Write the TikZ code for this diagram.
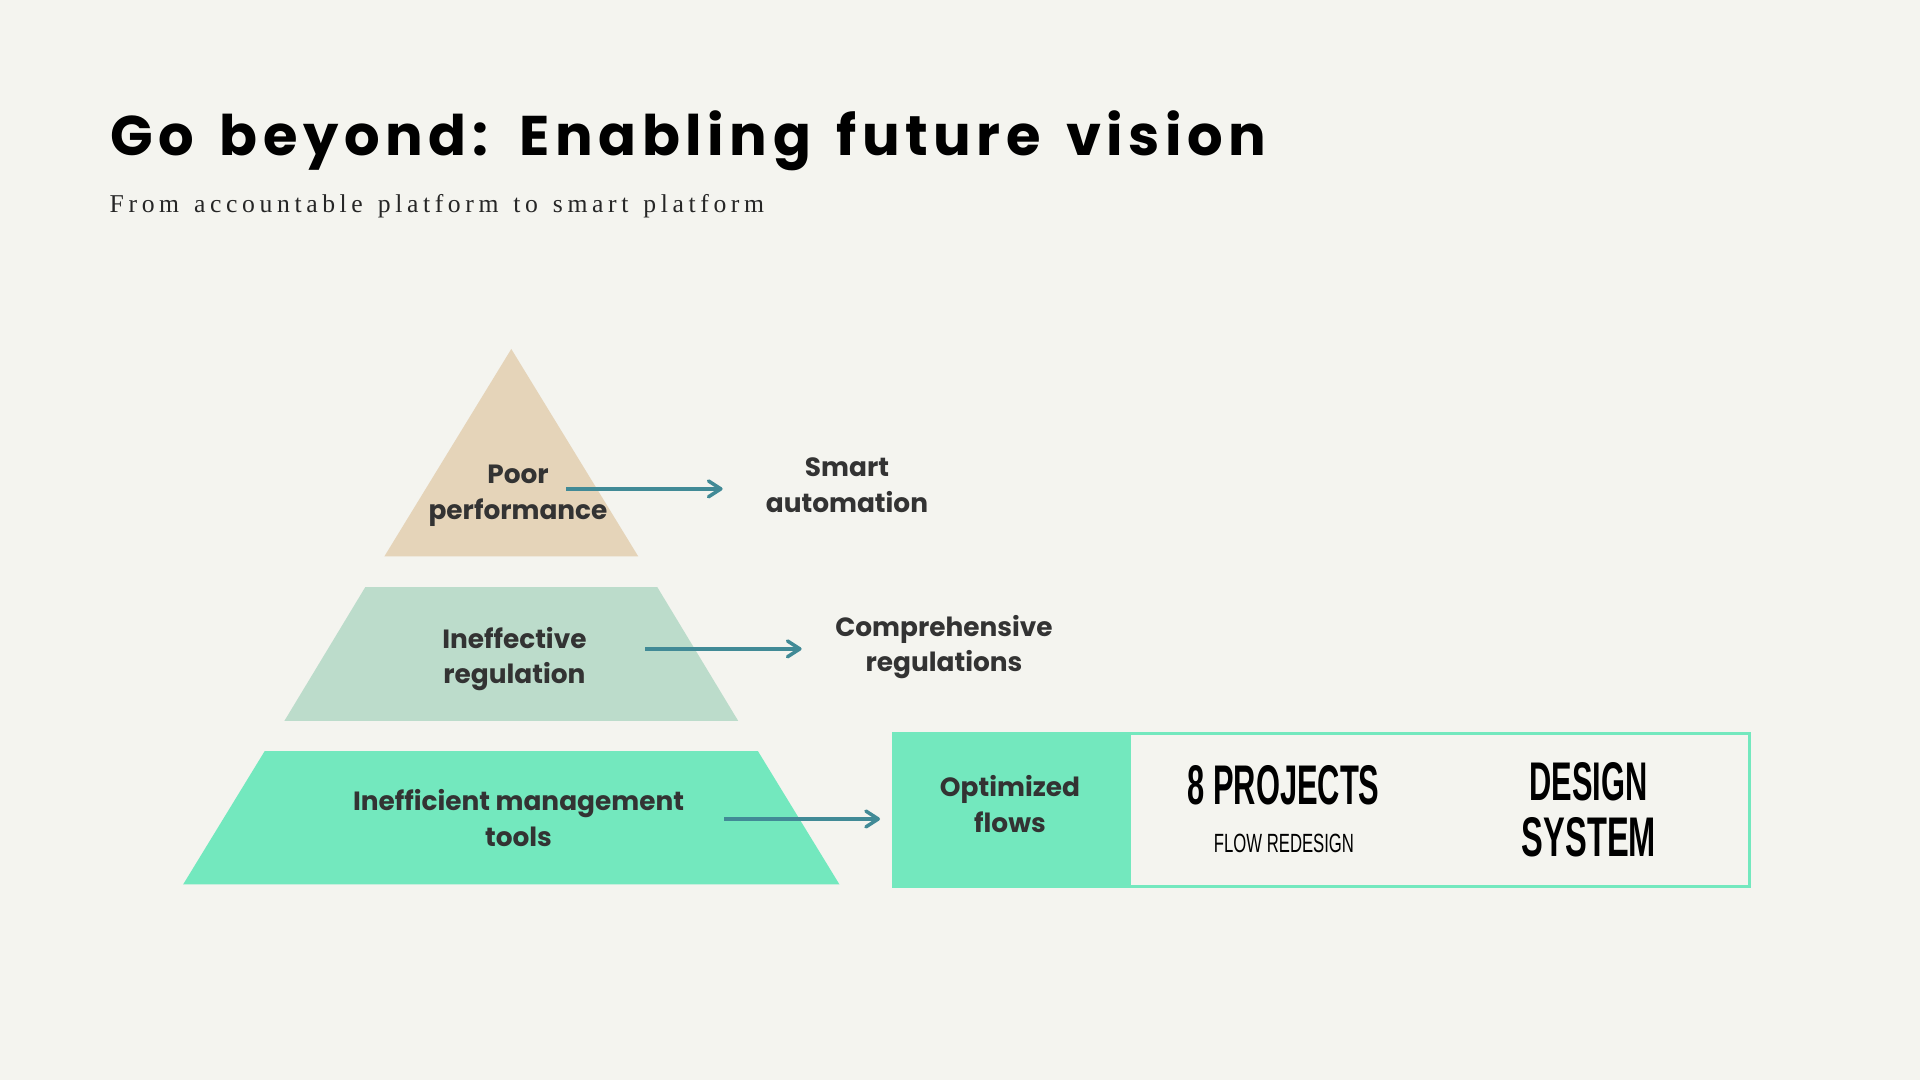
\documentclass[tikz,border=0pt]{standalone}
\usepackage{fontspec}
\usepackage{graphicx}
\usetikzlibrary{arrows.meta}

\newfontfamily\poppins{Poppins}
\newfontfamily\poptitle{Poppins}[LetterSpace=10, WordSpace=1.45]
\newfontfamily\subfont{Liberation Serif}[LetterSpace=18, WordSpace=1.35]
\newfontfamily\condfont{Liberation Sans}

\definecolor{paper}{HTML}{F4F4EF}
\definecolor{sand}{HTML}{E5D4B9}
\definecolor{sage}{HTML}{BCDCCB}
\definecolor{mint}{HTML}{73E8BE}
\definecolor{teal}{HTML}{418A96}
\definecolor{ink}{HTML}{333333}

\begin{document}
\begin{tikzpicture}[x=0.01cm, y=-0.01cm,
    label/.style={align=center, text=ink, inner sep=0pt,
        font=\poppins\bfseries\fontsize{7.5pt}{10.1pt}\selectfont},
    bignum/.style={inner sep=0pt, text=black, font=\condfont\bfseries},
    smallcap/.style={inner sep=0pt, text=black, font=\condfont},
    link/.style={draw=teal, line width=1pt, -{Straight Barb[round, length=3.5pt, width=4.5pt]}}]

\def\cx{511.3}
\def\ay{349}

\path [use as bounding box] (0,0) rectangle (1920,1080);
\fill [paper] (0,0) rectangle (1920,1080);

% TITLE
\node [anchor=base west, inner sep=0pt] (title) at (110,156)
    {\poptitle\bfseries\fontsize{15.9pt}{18pt}\selectfont Go beyond: Enabling future vision};
\node [anchor=base west, inner sep=0pt, text=black!85] (subtitle) at (109,212.7)
    {\subfont\fontsize{7.3pt}{9pt}\selectfont From accountable platform to smart platform};

% PYRAMID
\fill [sand] (\cx,\ay) -- +(-127,207.5) -- +(127,207.5) -- cycle;
\fill [sage] (\cx,\ay) ++(0,238.1) +(-146,0) -- +(146,0) -- +(226.9,133.8) -- +(-226.9,133.8) -- cycle;
\fill [mint] (\cx,\ay) ++(0,402.1) +(-246.6,0) -- +(246.6,0) -- +(328.2,133.4) -- +(-328.2,133.4) -- cycle;

\node [label] (poor) at (518,496) {Poor\\performance};
\node [label] (ineffective) at (514.4,659) {Ineffective\\regulation};
\node [label] (inefficient) at (518.5,818) {Inefficient management\\tools};

% TARGETS
\node [label] (smart) at (847,485) {Smart\\automation};
\node [label] (comprehensive) at (944,647) {Comprehensive\\regulations};

% RESULT BOX
\fill [mint] (892,732) rectangle (1131,888);
\draw [mint, line width=0.85pt] (893.5,733.5) rectangle (1749.5,886.5);
\node [label] (optimized) at (1010,804) {Optimized\\flows};
\node [bignum] (projects) at (1283.5,785.4) {\resizebox{1.92cm}{0.39cm}{8 PROJECTS}};
\node [smallcap] (redesign) at (1284,843.5) {\resizebox{1.40cm}{0.184cm}{FLOW REDESIGN}};
\node [bignum] (design) at (1588.7,782) {\resizebox{1.18cm}{0.38cm}{DESIGN}};
\node [bignum] (system) at (1589,837) {\resizebox{1.34cm}{0.39cm}{SYSTEM}};

% ARROWS
\coordinate (a1s) at (566.4,488.9);
\coordinate (a1e) at (722.6,488.9);
\coordinate (a2s) at (645,648.9);
\coordinate (a2e) at (801.6,648.9);
\coordinate (a3s) at (724,819);
\coordinate (a3e) at (880,819);
\draw [link] (a1s) -- (a1e);
\draw [link] (a2s) -- (a2e);
\draw [link] (a3s) -- (a3e);

\end{tikzpicture}
\end{document}
